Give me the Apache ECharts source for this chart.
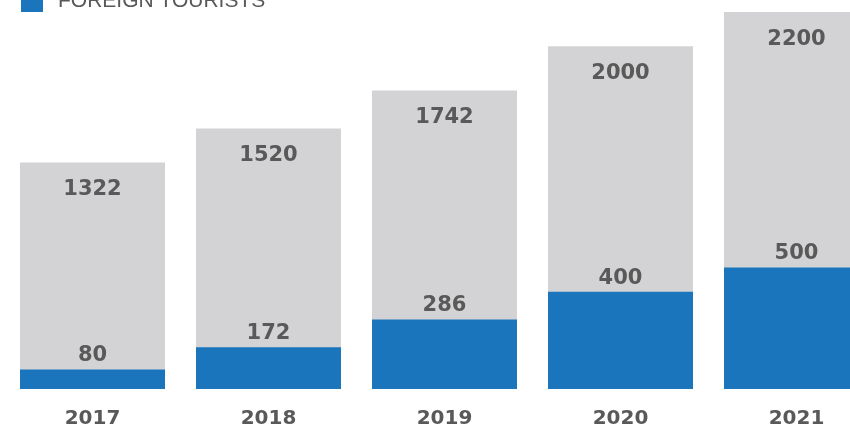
<!DOCTYPE html>
<html>
<head>
<meta charset="utf-8">
<script src="https://cdn.jsdelivr.net/npm/echarts@6/dist/echarts.min.js"></script>
<style>
  html, body { margin: 0; padding: 0; background: #fff; }
  #chart { width: 850px; height: 428px; }
</style>
</head>
<body>
<div id="chart"></div>
<script>
// data
const years = ['2017', '2018', '2019', '2020', '2021']
const totalTourists = [1322, 1520, 1742, 2000, 2200]
const foreignTourists = [80, 172, 286, 400, 500]

const textGrey = '#595959'
const chart = echarts.init(document.getElementById('chart'))

chart.setOption({
  animation: false,
  legend: {
    data: ['FOREIGN TOURISTS'],
    left: 21,
    top: -9,
    padding: 0,
    icon: 'rect',
    itemWidth: 22,
    itemHeight: 21,
    textStyle: {
      fontFamily: 'Liberation Sans',
      fontSize: 21,
      color: textGrey,
      padding: [0, 0, 0, 10]
    }
  },
  grid: { left: 4.5, width: 880, top: 12, bottom: 39, outerBoundsMode: 'none', containLabel: false },
  xAxis: {
    type: 'category',
    data: years,
    axisLine: { show: false },
    axisTick: { show: false },
    axisLabel: {
      margin: 20,
      fontFamily: 'DejaVu Sans',
      fontWeight: 'bold',
      fontSize: 20,
      color: textGrey
    }
  },
  yAxis: [
    { type: 'value', min: 0, max: 2200, show: false },
    { type: 'value', min: 0, max: 1550, show: false }
  ],
  series: [
    {
      name: 'TOTAL TOURISTS',
      type: 'bar',
      yAxisIndex: 0,
      data: totalTourists,
      barWidth: 145,
      barGap: '-100%',
      itemStyle: { color: '#D3D3D5' },
      label: {
        show: true,
        position: 'insideTop',
        distance: 17,
        fontFamily: 'DejaVu Sans',
        fontWeight: 'bold',
        fontSize: 21,
        color: textGrey
      }
    },
    {
      name: 'FOREIGN TOURISTS',
      type: 'bar',
      yAxisIndex: 1,
      data: foreignTourists,
      barWidth: 145,
      itemStyle: { color: '#1B75BC' },
      label: {
        show: true,
        position: 'top',
        distance: 3,
        fontFamily: 'DejaVu Sans',
        fontWeight: 'bold',
        fontSize: 21,
        color: textGrey
      }
    }
  ]
})
</script>
</body>
</html>
